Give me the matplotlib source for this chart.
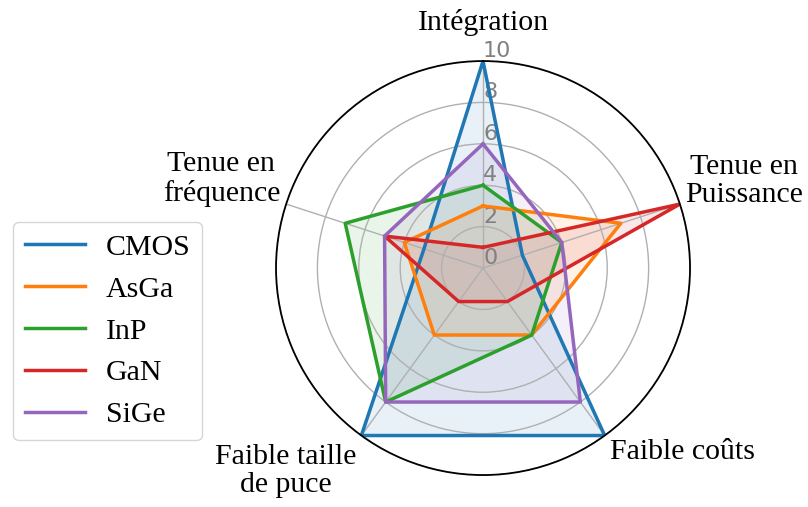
import numpy as np
import matplotlib
matplotlib.use('Agg')
import matplotlib.pyplot as plt

# Criteria (clockwise from top)
categories = ['Intégration', 'Tenue en\nPuissance', 'Faible coûts',
              'Faible taille\nde puce', 'Tenue en\nfréquence']

# Scores per technology
cmos = [10, 2, 10, 10, 3]
asga = [3, 7, 4, 4, 4]
inp = [4, 4, 4, 8, 7]
gan = [1, 10, 2, 2, 5]
sige = [6, 4, 8, 8, 5]

series_names = ['CMOS', 'AsGa', 'InP', 'GaN', 'SiGe']
series_values = [cmos, asga, inp, gan, sige]

r_ticks = [0, 2, 4, 6, 8, 10]

plt.rcParams['font.family'] = ['Liberation Serif', 'DejaVu Serif']

angles = np.linspace(0, 2 * np.pi, len(categories), endpoint=False)
angles_closed = np.concatenate([angles, angles[:1]])

fig = plt.figure(figsize=(8.08, 5.07), dpi=100)
ax = fig.add_axes([0.3416, 0.063, 0.5124, 0.8166], polar=True)
ax.set_theta_offset(np.pi / 2)
ax.set_theta_direction(-1)

for name, vals in zip(series_names, series_values):
    v = np.concatenate([vals, vals[:1]])
    line, = ax.plot(angles_closed, v, linewidth=2.5, label=name)
    ax.fill(angles_closed, v, color=line.get_color(), alpha=0.1)

ax.set_ylim(0, 10)
ax.set_yticks(r_ticks)
ax.set_yticklabels([str(t) for t in r_ticks], fontsize=16, color='grey',
                   family='DejaVu Sans')
ax.set_rlabel_position(0)
ax.set_xticks(angles)
ax.set_xticklabels([])
ax.grid(color='#b0b0b0', linewidth=1)
ax.spines['polar'].set_color('black')
ax.spines['polar'].set_linewidth(1.3)

# category labels
fs = 21.5
ls = 1.15
fig.text(483 / 808, 1 - 22 / 507, categories[0], ha='center', va='center', fontsize=fs)
fig.text(685 / 808, 1 - 181 / 507, categories[1], ha='left', va='center', fontsize=fs,
         multialignment='center', linespacing=ls)
fig.text(682 / 808, 1 - 452 / 507, categories[2], ha='center', va='center', fontsize=fs)
fig.text(286 / 808, 1 - 471 / 507, categories[3], ha='center', va='center', fontsize=fs,
         multialignment='center', linespacing=ls)
fig.text(280 / 808, 1 - 179 / 507, categories[4], ha='right', va='center', fontsize=fs,
         multialignment='center', linespacing=ls)

fig.legend(loc='upper left', bbox_to_anchor=(13 / 808, 1 - 222 / 507),
           borderaxespad=0, fontsize=fs, frameon=True, handlelength=2.0,
           handletextpad=0.7)

fig.savefig('out.png', dpi=100)
